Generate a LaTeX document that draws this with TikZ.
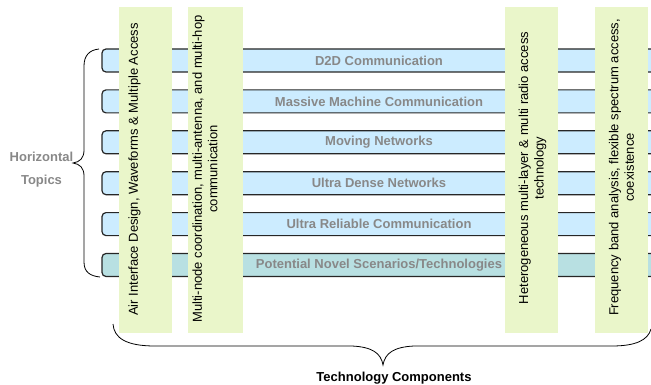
\documentclass[tikz,border=0pt]{standalone}
\usepackage{fontspec}
\setmainfont{Liberation Sans}
\usepackage{tikz}

\definecolor{barblue}{HTML}{CCECFF}
\definecolor{novelteal}{HTML}{B8E0E2}
\definecolor{techgreen}{HTML}{EAF6CA}
\definecolor{labelgray}{HTML}{888888}

\begin{document}
\begin{tikzpicture}[x=1pt,y=1pt]
\tikzstyle{every node}+=[inner sep=0pt]
\tikzstyle{topicbar}=[draw=black!85, line width=1.2pt, fill=barblue, rounded corners=4pt, minimum width=554pt, minimum height=23pt, font=\fontsize{13}{15}\selectfont\bfseries, text=labelgray]
\tikzstyle{techcol}=[fill=techgreen, minimum width=53pt, minimum height=325.5pt]
\tikzstyle{coltext}=[rotate=90, align=center, font=\fontsize{13}{15.5}\selectfont]
\useasboundingbox (0,0) rectangle (651,-385);
\node [topicbar] (d2d) at (379,-60.5) {D2D Communication};
\node [topicbar] (mmc) at (379,-101.4) {Massive Machine Communication};
\node [topicbar] (moving) at (379,-142.3) {Moving Networks};
\node [topicbar] (udn) at (379,-183.2) {Ultra Dense Networks};
\node [topicbar] (urc) at (379,-224.1) {Ultra Reliable Communication};
\node [topicbar, fill=novelteal] (novel) at (379,-265) {Potential Novel Scenarios/Technologies};
\node [techcol] (air) at (145.5,-170.25) {};
\node [techcol, minimum width=55pt] (multinode) at (215.5,-170.25) {};
\node [techcol] (hetnet) at (531.5,-170.25) {};
\node [techcol] (freq) at (621.5,-170.25) {};
\node [coltext] (airtext) at (134.5,-169.5) {Air Interface Design, Waveforms \& Multiple Access};
\node [coltext] (multitext) at (205,-169) {Multi-node coordination, multi-antenna, and multi-hop\\communication};
\node [coltext] (hettext) at (532.5,-168) {Heterogeneous multi-layer \& multi radio access\\technology};
\node [coltext] (freqtext) at (621.5,-167.5) {Frequency band analysis, flexible spectrum access,\\coexistence};
\node [align=center, font=\fontsize{13}{15}\selectfont\bfseries, text=labelgray] (topics) at (41.5,-170) {Horizontal\\[8pt]Topics};
\node [font=\fontsize{13}{15}\selectfont\bfseries] (components) at (394,-378) {Technology Components};
\draw [black, line width=0.8pt] (99,-49) .. controls (89,-50) and (84,-56) .. (84,-66) -- (84,-150) .. controls (84,-158) and (80,-162) .. (73,-163) .. controls (80,-164) and (84,-168) .. (84,-176) -- (84,-262) .. controls (84,-272) and (90,-276) .. (100,-277);
\draw [black, line width=0.8pt] (113,-324) .. controls (114,-338) and (126,-346) .. (155,-346) -- (352,-346) .. controls (372,-347) and (381,-353) .. (383,-365) .. controls (385,-353) and (394,-347) .. (414,-346) -- (612,-346) .. controls (636,-346) and (648,-340) .. (651,-329);
\end{tikzpicture}
\end{document}
